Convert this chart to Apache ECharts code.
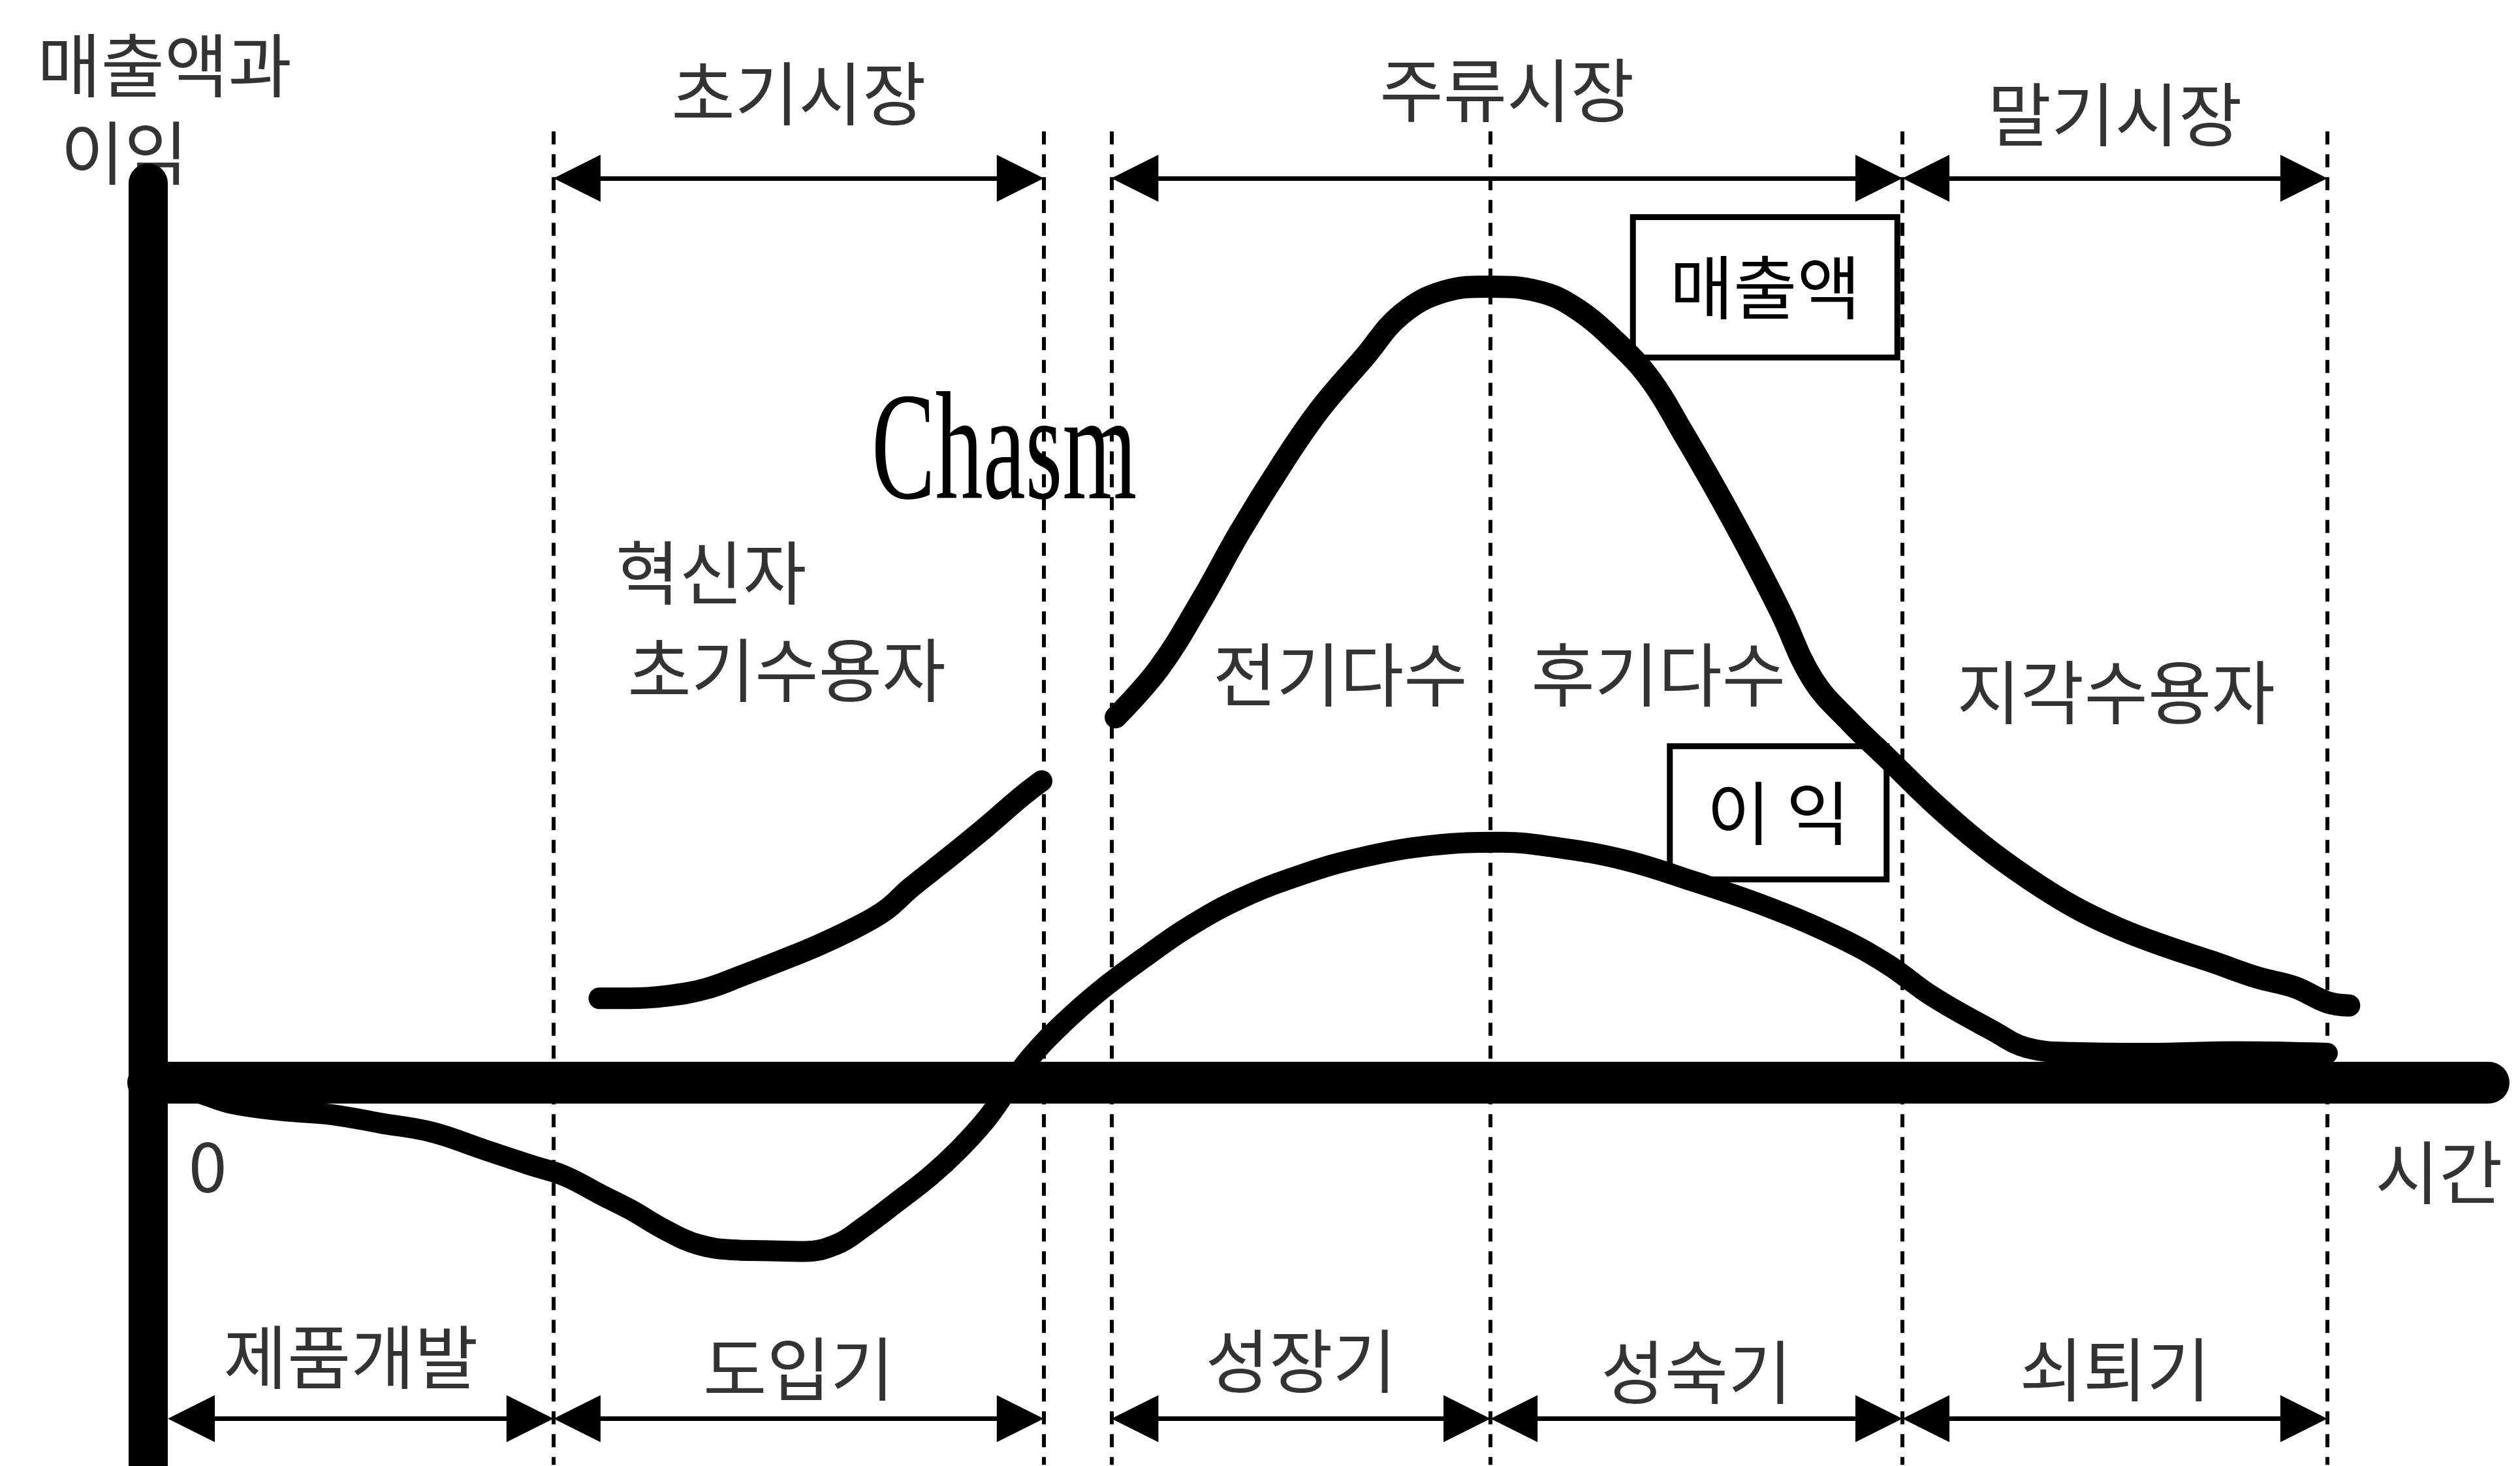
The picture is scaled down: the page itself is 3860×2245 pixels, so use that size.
<!DOCTYPE html>
<html>
<head>
<meta charset="utf-8">
<script src="https://cdn.jsdelivr.net/npm/echarts@6/dist/echarts.min.js"></script>
<style>
  html, body { margin: 0; padding: 0; background: #fff; }
  #chart { width: 3860px; height: 2245px; }
</style>
</head>
<body>
<div id="chart"></div>
<script>
// 시간축 위 단계 경계 (0 = 원점)
const phaseBounds = [0, 18.6, 41.1, 44.2, 61.6, 80.5, 100];
const marketNames = ["초기시장", "주류시장", "말기시장"];
const stageNames = ["제품개발", "도입기", "성장기", "성숙기", "쇠퇴기"];
const adopterNames = ["혁신자", "초기수용자", "전기다수", "후기다수", "지각수용자"];

// 매출액 - 캐즘 이전
const salesEarlyTime = [20.7, 22.1, 23.8, 25.6, 27.3, 29.0, 30.7, 32.4, 33.8, 35.0, 36.7, 38.4, 40.1, 41.0];
const salesEarly = [10.6, 10.6, 10.9, 11.8, 13.5, 15.3, 17.2, 19.4, 21.6, 24.5, 28.2, 32.0, 36.0, 37.9];

// 매출액 - 주류시장 이후
const salesMainTime = [44.4, 46.4, 48.4, 50.1, 52.1, 53.8, 55.8, 57.5, 59.5, 61.5, 63.8, 65.5, 67.5, 69.0, 70.4, 71.9,
  73.4, 74.9, 76.4, 78.1, 79.8, 81.9, 84.1, 86.2, 88.3, 90.4, 92.5, 94.7, 96.8, 98.5, 100.0, 101.0];
const salesMain = [45.9, 52.1, 60.9, 69.2, 78.0, 84.7, 91.1, 96.5, 99.4, 100.0, 99.4, 97.3, 92.7, 88.1, 81.8, 74.7,
  67.2, 59.2, 50.6, 45.3, 40.8, 35.2, 30.0, 25.8, 22.2, 19.4, 17.2, 15.2, 13.2, 12.0, 10.1, 9.7];

// 이익
const profitTime = [0, 2.2, 3.8, 6.1, 8.4, 10.7, 13.0, 15.4, 17.6, 19.1, 20.8, 22.1, 23.8, 25.2, 26.8, 28.3, 30.1,
  31.6, 32.8, 34.4, 35.9, 37.2, 38.4, 39.3, 40.4, 42.0, 43.7, 45.7, 47.7, 50.1, 52.9, 55.7, 58.9, 62.1, 64.5, 67.7,
  70.9, 74.2, 77.4, 79.8, 81.9, 84.6, 86.2, 88.3, 91.8, 95.8, 100.0];
const profit = [0, -1.2, -2.6, -3.5, -4.0, -5.1, -6.2, -8.4, -10.4, -11.7, -14.1, -15.9, -18.6, -20.3, -21.0, -21.1,
  -21.2, -20.3, -18.2, -14.9, -11.7, -8.4, -4.8, -1.4, 2.9, 7.5, 11.6, 15.7, 19.5, 23.1, 26.1, 28.3, 29.8, 30.2, 29.6,
  28.0, 25.3, 22.2, 18.5, 14.9, 10.8, 6.6, 4.4, 3.8, 3.7, 3.9, 3.7];

const FONT = '"Noto Sans CJK KR", sans-serif';
const pairs = (xs, ys) => xs.map((x, i) => [x, ys[i]]);
const b = phaseBounds;
const marketSpans = [[b[1], b[2]], [b[3], b[5]], [b[5], b[6]]];
const stageSpans = [[b[0], b[1]], [b[1], b[2]], [b[3], b[4]], [b[4], b[5]], [b[5], b[6]]];
const mid = (s) => (s[0] + s[1]) / 2;

// 화살표: 삼각형 끝이 경계선에 닿도록 안쪽으로
const inset = 1.08;
const arrow = (s, y) => [
  { coord: [s[0] + inset + (s[0] === 0 ? 0.9 : 0), y] },
  { coord: [s[1] - inset, y] }
];

const chartDom = document.getElementById("chart");
const myChart = echarts.init(chartDom);

const marketLabelY = [124.3, 124.7, 121.7];
const stageLabelY = [-34.4, -35.9, -34.9, -36.3, -36.0];
const adopterPos = [[21.45, 64.1, "left"], [29.3, 51.9], [54.7, 51.3], [69.3, 51.3], [90.3, 49.1]];

const texts = [
  { name: "매출액과", value: [0.75, 127.8] },
  { name: "이익", value: [-1.1, 116.8] },
  { name: "0", value: [2.73, -10.5] },
  { name: "시간", value: [102.2, -11.2], label: { align: "left" } }
];
marketNames.forEach((n, i) => texts.push({ name: n, value: [mid(marketSpans[i]), marketLabelY[i]] }));
stageNames.forEach((n, i) => texts.push({ name: n, value: [mid(stageSpans[i]), stageLabelY[i]] }));
adopterNames.forEach((n, i) => {
  const p = adopterPos[i];
  const item = { name: n, value: [p[0], p[1]] };
  if (p[2]) item.label = { align: p[2] };
  texts.push(item);
});

const curveStyle = (w) => ({ color: "#000", width: w, cap: "round", join: "round" });

const option = {
  animation: false,
  backgroundColor: "#fff",
  grid: { left: 0, right: 0, top: 0, bottom: 0 },
  xAxis: { type: "value", min: -6.8, max: 108.84, show: false },
  yAxis: { type: "value", min: -48.15, max: 136.0, show: false },
  series: [
    {
      // 단계 경계 점선
      type: "line",
      data: [],
      z: 1,
      markLine: {
        silent: true,
        symbol: "none",
        label: { show: false },
        lineStyle: { color: "#000", width: 6, type: [20, 15] },
        data: phaseBounds.slice(1).map((x) => [{ coord: [x, 119.5] }, { coord: [x, -48] }])
      }
    },
    {
      // 시장/단계 화살표
      type: "line",
      data: [],
      z: 2,
      markLine: {
        silent: true,
        symbol: ["triangle", "triangle"],
        symbolSize: 72,
        label: { show: false },
        itemStyle: { color: "#000" },
        lineStyle: { color: "#000", width: 7, type: "solid" },
        data: marketSpans.map((s) => arrow(s, 113.6)).concat(stageSpans.map((s) => arrow(s, -42.2)))
      }
    },
    {
      name: "매출액",
      type: "line",
      data: pairs(salesEarlyTime, salesEarly),
      smooth: 0.4,
      showSymbol: false,
      z: 3,
      lineStyle: curveStyle(33)
    },
    {
      name: "매출액",
      type: "line",
      data: pairs(salesMainTime, salesMain),
      smooth: 0.4,
      showSymbol: false,
      z: 3,
      lineStyle: curveStyle(34)
    },
    {
      name: "이익",
      type: "line",
      data: pairs(profitTime, profit),
      smooth: 0.4,
      showSymbol: false,
      z: 3,
      lineStyle: curveStyle(32)
    },
    {
      // 세로축
      type: "line",
      data: [[0, -50], [0, 113]],
      showSymbol: false,
      z: 4,
      lineStyle: { color: "#000", width: 60, cap: "round" }
    },
    {
      // 가로축
      type: "line",
      data: [[0, 0], [107.4, 0]],
      showSymbol: false,
      z: 4,
      lineStyle: { color: "#000", width: 64, cap: "round" }
    },
    {
      // 글자들
      type: "scatter",
      data: texts,
      symbolSize: 1,
      z: 3,
      silent: true,
      itemStyle: { color: "rgba(0,0,0,0)" },
      label: {
        show: true,
        position: "inside",
        formatter: "{b}",
        color: "#000",
        fontFamily: FONT,
        fontSize: 106
      }
    }
  ]
};

option && myChart.setOption(option);

// 범례 상자와 Chasm 글자 (Chasm은 좁은 세리프체라 가로로 눌러서 그림)
const toPx = (v) => myChart.convertToPixel({ gridIndex: 0 }, v);
const boxes = [
  { text: "매출액", at: [74.2, 99.9], w: 405, h: 215 },
  { text: "이 익", at: [74.8, 33.9], w: 332, h: 204 }
];
const chasmAt = toPx([39.28, 78.5]);
const graphic = boxes.map((bx) => {
  const c = toPx(bx.at);
  return {
    type: "group",
    x: c[0],
    y: c[1],
    z: 10,
    children: [
      {
        type: "rect",
        shape: { x: -bx.w / 2, y: -bx.h / 2, width: bx.w, height: bx.h },
        style: { fill: "#fff", stroke: "#000", lineWidth: 9 }
      },
      {
        type: "text",
        style: {
          text: bx.text,
          font: '106px "Noto Sans CJK KR"',
          fill: "#000",
          align: "center",
          verticalAlign: "middle"
        }
      }
    ]
  };
});
graphic.push({
  type: "text",
  x: chasmAt[0],
  y: chasmAt[1],
  scaleX: 0.62,
  z: 5,
  style: {
    text: "Chasm",
    font: '236px "Liberation Serif"',
    fill: "#000",
    align: "center",
    verticalAlign: "middle"
  }
});
myChart.setOption({ graphic: graphic });
</script>
</body>
</html>
